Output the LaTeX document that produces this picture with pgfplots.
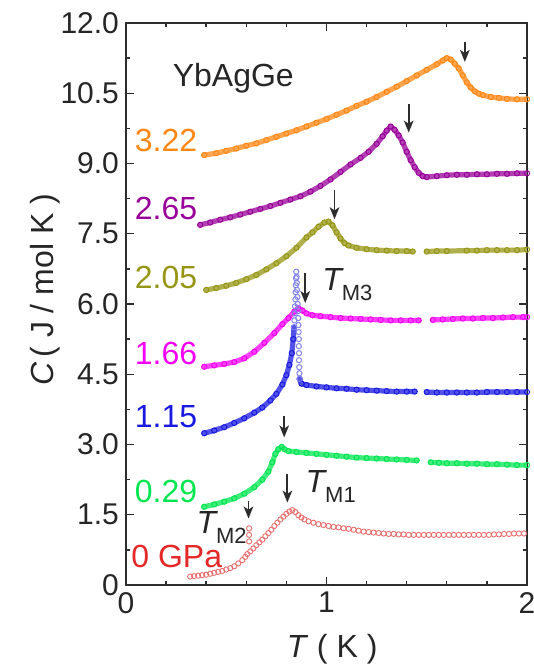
\documentclass[border=0pt]{standalone}
\usepackage{fontspec}
\setmainfont{Liberation Sans}
\usepackage{pgfplots}
\usepackage{pgfplotstable}
\pgfplotsset{compat=1.18}
\usetikzlibrary{arrows.meta}
\definecolor{cor}{RGB}{255,135,20}
\definecolor{cpu}{RGB}{153,0,153}
\definecolor{col}{RGB}{150,150,20}
\definecolor{cma}{RGB}{245,0,245}
\definecolor{cbl}{RGB}{25,25,225}
\definecolor{cbll}{RGB}{130,130,235}
\definecolor{cgr}{RGB}{0,230,80}
\definecolor{cre}{RGB}{228,40,40}
\definecolor{crel}{RGB}{232,110,110}
\definecolor{axc}{RGB}{45,45,45}

\pgfplotstableread{
T C
0.39 9.18
0.45 9.22
0.50 9.27
0.55 9.32
0.60 9.38
0.65 9.43
0.70 9.50
0.75 9.57
0.80 9.64
0.85 9.71
0.90 9.79
0.95 9.87
1.00 9.95
1.05 10.04
1.10 10.13
1.15 10.23
1.20 10.32
1.25 10.42
1.30 10.53
1.35 10.64
1.40 10.76
1.45 10.88
1.50 11.00
1.55 11.12
1.58 11.20
1.60 11.25
1.62 11.22
1.64 11.13
1.66 11.03
1.68 10.88
1.70 10.73
1.72 10.62
1.74 10.54
1.76 10.49
1.78 10.46
1.82 10.42
1.86 10.40
1.90 10.38
1.95 10.37
2.00 10.37
}\dataor

\pgfplotstableread{
T C
0.37 7.69
0.42 7.74
0.47 7.80
0.52 7.85
0.57 7.91
0.62 7.97
0.67 8.03
0.72 8.09
0.77 8.16
0.82 8.23
0.87 8.30
0.92 8.40
0.97 8.52
1.02 8.66
1.07 8.82
1.12 8.98
1.17 9.12
1.21 9.25
1.25 9.42
1.28 9.58
1.30 9.70
1.32 9.79
1.34 9.72
1.36 9.60
1.38 9.45
1.40 9.25
1.42 9.07
1.44 8.92
1.46 8.80
1.48 8.73
1.50 8.71
1.55 8.73
1.60 8.75
1.65 8.76
1.70 8.76
1.75 8.77
1.80 8.77
1.85 8.78
1.90 8.78
1.95 8.79
2.00 8.79
}\datapu

\pgfplotstableread{
T C
0.40 6.30
0.45 6.34
0.50 6.39
0.55 6.45
0.60 6.53
0.65 6.62
0.70 6.74
0.75 6.87
0.80 7.02
0.85 7.20
0.90 7.42
0.93 7.53
0.96 7.65
0.99 7.74
1.01 7.76
1.03 7.68
1.05 7.53
1.07 7.40
1.09 7.30
1.11 7.25
1.15 7.20
1.20 7.17
1.25 7.15
1.30 7.14
1.35 7.13
1.40 7.13
1.43 7.12
nan nan
1.50 7.12
1.55 7.13
1.60 7.13
1.70 7.14
1.75 7.14
1.80 7.15
1.85 7.15
1.90 7.15
1.95 7.15
2.00 7.16
}\dataol

\pgfplotstableread{
T C
0.39 4.66
0.44 4.69
0.49 4.72
0.54 4.76
0.59 4.84
0.64 4.98
0.69 5.17
0.74 5.38
0.78 5.57
0.81 5.70
0.84 5.84
0.86 5.91
0.88 5.86
0.90 5.80
0.93 5.76
0.97 5.74
1.02 5.72
1.07 5.70
1.12 5.69
1.17 5.68
1.22 5.67
1.27 5.66
1.32 5.65
1.37 5.65
1.42 5.65
1.46 5.65
nan nan
1.53 5.66
1.58 5.67
1.63 5.68
1.68 5.69
1.73 5.69
1.78 5.70
1.83 5.70
1.88 5.71
1.93 5.72
1.98 5.72
2.00 5.72
}\datama

\pgfplotstableread{
T C
0.39 3.24
0.44 3.30
0.49 3.37
0.54 3.46
0.59 3.56
0.64 3.68
0.68 3.79
0.72 3.94
0.75 4.08
0.78 4.28
0.80 4.48
0.815 4.70
0.827 4.95
0.834 5.25
0.838 5.50
nan nan
0.866 4.40
0.875 4.30
0.90 4.27
0.95 4.24
1.00 4.22
1.05 4.20
1.10 4.19
1.15 4.17
1.20 4.16
1.25 4.15
1.30 4.14
1.35 4.13
1.40 4.13
1.44 4.13
nan nan
1.50 4.12
1.55 4.11
1.60 4.11
1.65 4.11
1.70 4.11
1.75 4.11
1.80 4.12
1.85 4.12
1.90 4.12
1.95 4.12
2.00 4.12
}\databl

\pgfplotstableread{
T C
0.838 5.50
0.840 5.65
0.842 5.80
0.843 5.95
0.845 6.10
0.846 6.25
0.847 6.40
0.848 6.55
0.849 6.69
0.851 6.58
0.852 6.45
0.853 6.30
0.855 6.15
0.856 6.00
0.858 5.85
0.859 5.70
0.860 5.55
0.861 5.40
0.862 5.25
0.862 5.10
0.863 4.95
0.863 4.80
0.864 4.65
0.865 4.52
0.866 4.40
}\datasp

\pgfplotstableread{
T C
0.39 1.67
0.44 1.72
0.49 1.78
0.54 1.85
0.59 1.95
0.64 2.09
0.68 2.25
0.71 2.42
0.73 2.62
0.745 2.80
0.76 2.90
0.777 2.95
0.79 2.90
0.81 2.86
0.85 2.84
0.90 2.82
0.95 2.80
1.00 2.78
1.05 2.76
1.10 2.74
1.15 2.72
1.20 2.71
1.25 2.70
1.30 2.69
1.35 2.68
1.40 2.67
1.45 2.66
nan nan
1.52 2.62
1.56 2.61
1.60 2.60
1.65 2.60
1.70 2.59
1.75 2.59
1.80 2.58
1.85 2.58
1.90 2.57
1.95 2.56
2.00 2.56
}\datagr

\pgfplotstableread{
T C
0.32 0.18
0.34 0.19
0.36 0.20
0.38 0.21
0.40 0.22
0.42 0.24
0.44 0.26
0.46 0.28
0.48 0.30
0.50 0.33
0.52 0.36
0.54 0.40
0.56 0.46
0.58 0.53
0.595 0.60
0.605 0.66
0.614 0.93
0.614 1.07
0.614 1.21
0.62 0.72
0.635 0.78
0.65 0.85
0.665 0.91
0.68 0.97
0.695 1.04
0.71 1.11
0.725 1.18
0.74 1.26
0.755 1.33
0.77 1.40
0.785 1.46
0.80 1.52
0.815 1.57
0.83 1.60
0.845 1.56
0.86 1.49
0.875 1.44
0.89 1.40
0.91 1.36
0.935 1.33
0.96 1.30
0.985 1.28
1.01 1.26
1.035 1.24
1.06 1.23
1.085 1.21
1.11 1.20
1.135 1.18
1.16 1.16
1.185 1.14
1.21 1.13
1.235 1.12
1.26 1.11
1.285 1.10
1.31 1.09
1.335 1.09
1.36 1.08
1.385 1.08
1.41 1.07
1.435 1.07
1.46 1.07
1.485 1.07
1.51 1.07
1.535 1.07
1.56 1.07
1.585 1.07
1.61 1.07
1.635 1.07
1.66 1.07
1.685 1.07
1.71 1.07
1.735 1.07
1.76 1.07
1.785 1.07
1.81 1.07
1.835 1.08
1.86 1.08
1.885 1.09
1.91 1.09
1.935 1.10
1.96 1.10
1.985 1.10
}\datare

\begin{document}
\begin{tikzpicture}
\begin{axis}[
  at={(0,0)}, anchor=south west,
  scale only axis, width=200.5pt, height=281pt,
  xmin=0, xmax=2, ymin=0, ymax=12,
  xtick={0,1,2}, xticklabels={0,1,2},
  ytick={0,1.5,3,4.5,6,7.5,9,10.5,12},
  yticklabels={0,1.5,3.0,4.5,6.0,7.5,9.0,10.5,12.0},
  minor x tick num=4, minor y tick num=1,
  tick align=inside, major tick length=4pt, minor tick length=2.2pt,
  axis line style={draw=axc, line width=0.8pt},
  every tick/.style={axc, line width=0.7pt},
  ticklabel style={font=\fontsize{15}{18}\selectfont, text=black!85},
  /pgf/number format/assume math mode=true,
  xlabel={{\itshape T}\,\,( K )},
  ylabel={{\itshape C}\,( J / mol K )},
  label style={font=\fontsize{16}{19}\selectfont, text=black!85},
  xlabel style={at={(axis description cs:0.514,-0.114)}, anchor=center},
  ylabel style={at={(axis description cs:-0.202,0.525)}, anchor=center},
  unbounded coords=jump,
]
% orange 3.22
\addplot[color=cor!75!white, line width=2.6pt, line join=round, line cap=round] table {\dataor};
\addplot[only marks, mark=o, mark size=1.3pt, color=cor, mark options={line width=0.5pt}] table {\dataor};
% purple 2.65
\addplot[color=cpu!75!white, line width=2.6pt, line join=round, line cap=round] table {\datapu};
\addplot[only marks, mark=o, mark size=1.3pt, color=cpu, mark options={line width=0.5pt}] table {\datapu};
% olive 2.05
\addplot[color=col!75!white, line width=2.6pt, line join=round, line cap=round] table {\dataol};
\addplot[only marks, mark=o, mark size=1.3pt, color=col, mark options={line width=0.5pt}] table {\dataol};
% magenta 1.66
\addplot[color=cma!75!white, line width=2.6pt, line join=round, line cap=round] table {\datama};
\addplot[only marks, mark=o, mark size=1.3pt, color=cma, mark options={line width=0.5pt}] table {\datama};
% blue 1.15
\addplot[color=cbl!75!white, line width=2.6pt, line join=round, line cap=round] table {\databl};
\addplot[only marks, mark=o, mark size=1.3pt, color=cbl, mark options={line width=0.5pt}] table {\databl};
\addplot[only marks, mark=o, mark size=1.3pt, color=cbll, mark options={line width=0.5pt}] table {\datasp};
% green 0.29
\addplot[color=cgr!75!white, line width=2.6pt, line join=round, line cap=round] table {\datagr};
\addplot[only marks, mark=o, mark size=1.3pt, color=cgr, mark options={line width=0.5pt}] table {\datagr};
% red 0 GPa
\addplot[only marks, mark=o, mark size=1.3pt, color=crel, mark options={line width=0.45pt}] table {\datare};

% arrows
\begin{scope}[axc, line width=0.9pt, -{Stealth[length=6pt,width=4.8pt,inset=1.6pt]}]
\draw (axis cs:1.69,11.60) -- (axis cs:1.69,11.17);
\draw (axis cs:1.41,10.27) -- (axis cs:1.41,9.66);
\draw (axis cs:1.04,8.44) -- (axis cs:1.04,7.81);
\draw (axis cs:0.894,6.66) -- (axis cs:0.894,6.02);
\draw (axis cs:0.789,3.60) -- (axis cs:0.789,3.15);
\draw (axis cs:0.805,2.37) -- (axis cs:0.805,1.76);
\draw (axis cs:0.611,1.80) -- (axis cs:0.611,1.42);
\end{scope}

% labels
\begin{scope}[font=\fontsize{16}{19}\selectfont, inner sep=0pt]
\node[text=black!85] at (axis cs:0.535,10.83) {YbAgGe};
\node[anchor=west, text=cor] at (axis cs:0.042,9.50) {3.22};
\node[anchor=west, text=cpu] at (axis cs:0.042,8.05) {2.65};
\node[anchor=west, text=col] at (axis cs:0.042,6.56) {2.05};
\node[anchor=west, text=cma] at (axis cs:0.042,4.95) {1.66};
\node[anchor=west, text=cbl] at (axis cs:0.042,3.59) {1.15};
\node[anchor=west, text=cgr] at (axis cs:0.042,1.99) {0.29};
\node[anchor=west, text=cre] at (axis cs:0.025,0.60) {0 GPa};
\node[anchor=west, text=black!85] at (axis cs:0.977,6.41) {{\itshape T}\raisebox{-5pt}{\fontsize{11}{12}\selectfont M3}};
\node[anchor=west, text=black!85] at (axis cs:0.894,2.10) {{\itshape T}\raisebox{-5pt}{\fontsize{11}{12}\selectfont M1}};
\node[anchor=west, text=black!85] at (axis cs:0.35,1.22) {{\itshape T}\raisebox{-5pt}{\fontsize{11}{12}\selectfont M2}};
\end{scope}
\end{axis}
\pgfresetboundingbox
\path[use as bounding box] (-63pt,-43pt) rectangle (204pt,292.5pt);
\end{tikzpicture}
\end{document}
